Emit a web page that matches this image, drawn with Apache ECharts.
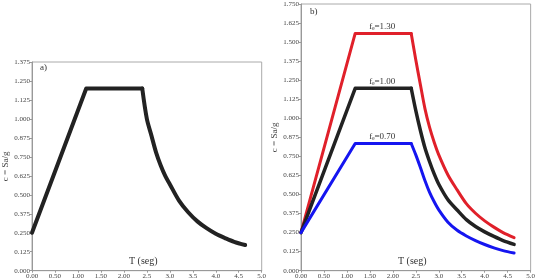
<!DOCTYPE html>
<html><head><meta charset="utf-8">
<script src="https://cdn.jsdelivr.net/npm/echarts@6/dist/echarts.min.js"></script>
<style>html,body{margin:0;padding:0;background:#fff}#c{width:538px;height:280px}</style>
</head><body><div id="c"></div>
<script>
// Period T (s)
var periods = [0, 1.18, 2.4, 2.5, 2.6, 2.7, 2.8, 2.9, 3.0, 3.2, 3.4, 3.6, 3.8, 4.0, 4.2, 4.4, 4.64];
// Spectral ordinate c = Sa/g
var spectrumA     = [0.25, 1.20, 1.20, 1.00, 0.89, 0.78, 0.695, 0.625, 0.57, 0.462, 0.385, 0.325, 0.28, 0.243, 0.215, 0.19, 0.169];
var spectrumFe130 = [0.25, 1.557, 1.557, 1.383, 1.22, 1.062, 0.94, 0.843, 0.76, 0.628, 0.53, 0.44, 0.377, 0.327, 0.286, 0.25, 0.217];
var spectrumFe100 = [0.25, 1.197, 1.197, 1.05, 0.92, 0.805, 0.715, 0.635, 0.567, 0.465, 0.398, 0.335, 0.29, 0.255, 0.225, 0.198, 0.173];
var spectrumFe070 = [0.25, 0.835, 0.835, 0.76, 0.677, 0.59, 0.514, 0.452, 0.399, 0.318, 0.265, 0.228, 0.198, 0.172, 0.15, 0.132, 0.116];
var xTickLabels = {"0":"0.00","0.5":"0.50","1":"1.00","1.5":"1.50","2":"2.00","2.5":"2.5","3":"3.0","3.5":"3.5","4":"4.0","4.5":"4.5","5":"5.0"};
var feLabels = ["f\u2091=1.30", "f\u2091=1.00", "f\u2091=0.70"];
var feLabelT = 1.77;

function pairs(xs, ys){ return xs.map(function(x,i){return [x, ys[i]];}); }

var FONT = "Liberation Serif";
var axisLine = {show:true, lineStyle:{color:'#999', width:1}};
function xAx(idx){
  return {type:'value', gridIndex:idx, min:0, max:5, interval:0.5,
    axisLine:axisLine, axisTick:{show:true, length:2, lineStyle:{color:'#999'}},
    splitLine:{show:false},
    axisLabel:{fontFamily:FONT, fontSize:7, color:'#444', margin:2, formatter:function(v){return xTickLabels[String(v)]||v;}}};
}
function yAx(idx, max){
  return {type:'value', gridIndex:idx, min:0, max:max, interval:0.125,
    name:'c = Sa/g', nameLocation:'middle', nameGap:22,
    nameTextStyle:{fontFamily:FONT, fontSize:9, color:'#444'},
    axisLine:axisLine, axisTick:{show:true, length:2, lineStyle:{color:'#999'}},
    splitLine:{show:false},
    axisLabel:{fontFamily:FONT, fontSize:7, color:'#444', margin:2, formatter:function(v){return v.toFixed(3);}}};
}
// rising branch + plateau (straight), then descending branch (smooth)
function spectrum(name, xi, ys, color, w, label){
  var d = pairs(periods, ys);
  var out = [
    {type:'line', name:name, xAxisIndex:xi, yAxisIndex:xi, data:d.slice(0,3), showSymbol:false,
     lineStyle:{color:color, width:w, join:'round', cap:'round'}, itemStyle:{color:color}},
    {type:'line', name:name, xAxisIndex:xi, yAxisIndex:xi, data:d.slice(2), showSymbol:false, smooth:0.3,
     lineStyle:{color:color, width:w, join:'round', cap:'round'}, itemStyle:{color:color}}
  ];
  if(label){
    out[0].markPoint = {symbol:'circle', symbolSize:0, data:[{coord:[feLabelT, ys[1]]}],
      label:{show:true, position:'top', distance:2, formatter:label, fontFamily:FONT, fontSize:9, color:'#333'}};
  }
  return out;
}

var chart = echarts.init(document.getElementById('c'), null, {renderer:'canvas'});
chart.setOption({
  animation:false,
  grid:[
    {left:31, top:62, right:276.3, bottom:9.3, show:true, borderColor:'#aaa', borderWidth:1},
    {left:301, top:4, right:5.7, bottom:9.3, show:true, borderColor:'#aaa', borderWidth:1}
  ],
  xAxis:[xAx(0), xAx(1)],
  yAxis:[yAx(0, 1.375), yAx(1, 1.75)],
  graphic:[
    {type:'text', left:40, top:63, style:{text:'a)', font:'9px "Liberation Serif"', fill:'#333'}},
    {type:'text', left:310, top:7, style:{text:'b)', font:'9px "Liberation Serif"', fill:'#333'}},
    {type:'text', left:129, top:256, style:{text:'T (seg)', font:'10px "Liberation Serif"', fill:'#333'}},
    {type:'text', left:398, top:256, style:{text:'T (seg)', font:'10px "Liberation Serif"', fill:'#333'}}
  ],
  series:[].concat(
    spectrum('a', 0, spectrumA, '#222', 4),
    spectrum('fe130', 1, spectrumFe130, '#e0202a', 3, feLabels[0]),
    spectrum('fe100', 1, spectrumFe100, '#222', 3.5, feLabels[1]),
    spectrum('fe070', 1, spectrumFe070, '#1515f0', 3, feLabels[2])
  )
});
</script></body></html>
